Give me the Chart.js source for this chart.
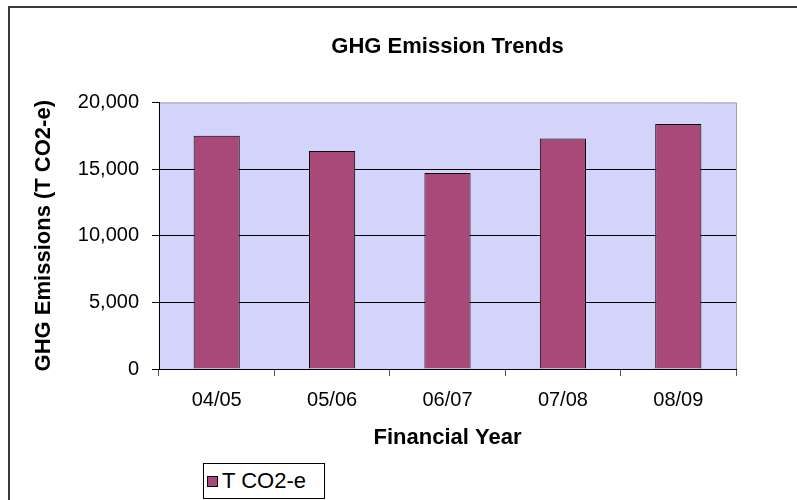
<!DOCTYPE html>
<html>
<head>
<meta charset="utf-8">
<title>GHG Emission Trends</title>
<script src="https://cdn.jsdelivr.net/npm/chart.js@4.4.1/dist/chart.umd.min.js"></script>
<style>
  html, body { margin: 0; padding: 0; background: #fff; overflow: hidden; }
  #wrap { position: relative; width: 797px; height: 500px; overflow: hidden; }
  #frame {
    position: absolute; left: 8px; top: 6px; width: 900px; height: 700px;
    border: 2px solid #3a3a3a; box-sizing: border-box;
  }
  #chart { position: absolute; left: 0; top: 0; }
  #legend {
    position: absolute; left: 203px; top: 463px; width: 122px; height: 36px;
    border: 1px solid #000; box-sizing: border-box; background: #fff;
    font: 22px "Liberation Sans", Arial, sans-serif; color: #000;
    display: flex; align-items: center; white-space: nowrap;
  }
  #legend .swatch {
    display: inline-block; width: 9px; height: 9px; margin: 0 4px 0 3px;
    border: 1px solid #000;
  }
</style>
</head>
<body>
<div id="wrap">
  <div id="frame"></div>
  <canvas id="chart" width="797" height="500"></canvas>
  <div id="legend"></div>
</div>
<script>
const years = ['04/05', '05/06', '06/07', '07/08', '08/09'];
const emissions = [17500, 16350, 14700, 17300, 18380];
const seriesLabel = 'T CO2-e';
const yMin = 0;
const yMax = 20000;
const yStep = 5000;

const FONT = '"Liberation Sans", Arial, sans-serif';
const barColor = '#a94979';

// lavender plot area with the grey top/right edge
const plotBg = {
    id: 'plotBg',
    beforeDraw(chart) {
        const {ctx, chartArea} = chart;
        ctx.save();
        ctx.fillStyle = '#d4d4fb';
        ctx.fillRect(chartArea.left, chartArea.top, chartArea.width, chartArea.height);
        ctx.strokeStyle = '#a0a0a0';
        ctx.lineWidth = 1;
        ctx.beginPath();
        ctx.moveTo(chartArea.left, chartArea.top + 0.5);
        ctx.lineTo(chartArea.right + 0.5, chartArea.top + 0.5);
        ctx.lineTo(chartArea.right + 0.5, chartArea.bottom);
        ctx.stroke();
        ctx.restore();
    }
};

const chart = new Chart(document.getElementById('chart'), {
    type: 'bar',
    data: {
        labels: years,
        datasets: [{
            label: seriesLabel,
            data: emissions,
            backgroundColor: barColor,
            borderColor: '#000',
            borderWidth: 1,
            barPercentage: 0.4,
            categoryPercentage: 1.0
        }]
    },
    options: {
        responsive: false,
        animation: false,
        devicePixelRatio: 1,
        layout: {
            padding: {left: 10, right: 61, top: 0, bottom: 46}
        },
        plugins: {
            legend: {display: false},
            tooltip: {enabled: false},
            title: {
                display: true,
                fullSize: false,
                text: 'GHG Emission Trends',
                color: '#000',
                font: {family: FONT, size: 22, weight: 'bold'},
                padding: {top: 34, bottom: 42}
            }
        },
        scales: {
            x: {
                grid: {
                    drawOnChartArea: false,
                    tickLength: 7,
                    tickColor: '#555'
                },
                border: {display: true, color: '#000', width: 1},
                ticks: {
                    color: '#000',
                    padding: 12,
                    font: {family: FONT, size: 20}
                },
                title: {
                    display: true,
                    text: 'Financial Year',
                    color: '#000',
                    font: {family: FONT, size: 22, weight: 'bold'},
                    padding: {top: 0, bottom: 3}
                },
                afterFit(scale) { scale.height = 85; }
            },
            y: {
                min: yMin,
                max: yMax,
                grid: {
                    color: (c) => (c.tick && c.tick.value === yMax) ? 'rgba(0,0,0,0)' : '#000',
                    tickColor: '#000',
                    tickLength: 7
                },
                border: {display: true, color: '#000', width: 1},
                ticks: {
                    stepSize: yStep,
                    color: '#000',
                    padding: 13,
                    font: {family: FONT, size: 20},
                    callback: (v) => v.toLocaleString('en-US')
                },
                title: {
                    display: true,
                    text: 'GHG Emissions (T CO2-e)',
                    color: '#000',
                    font: {family: FONT, size: 22, weight: 'bold'},
                    padding: {top: 21, bottom: 0}
                },
                afterFit(scale) { scale.width = 149; }
            }
        }
    },
    plugins: [plotBg]
});

// legend box built from the dataset
const legendEl = document.getElementById('legend');
chart.data.datasets.forEach(ds => {
    const sw = document.createElement('span');
    sw.className = 'swatch';
    sw.style.background = ds.backgroundColor;
    const txt = document.createElement('span');
    txt.textContent = ds.label;
    legendEl.appendChild(sw);
    legendEl.appendChild(txt);
});
</script>
</body>
</html>
